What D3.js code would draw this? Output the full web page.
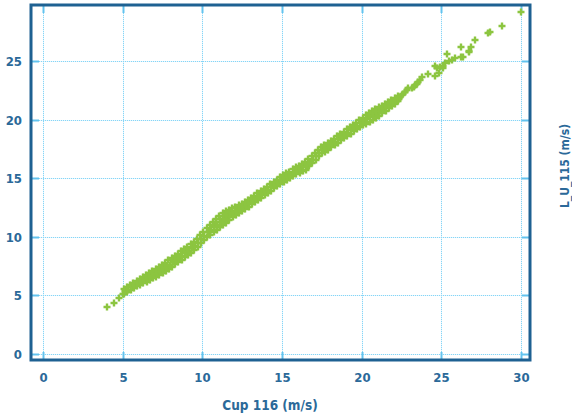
<!DOCTYPE html>
<html>
<head>
<meta charset="utf-8">
<script src="https://cdn.jsdelivr.net/npm/d3@7/dist/d3.min.js"></script>
<style>
  body { margin: 0; background: #fff; }
  svg text { font-family: 'DejaVu Sans Condensed', 'Liberation Sans Narrow', Roboto, sans-serif; font-weight: bold; fill: #2b6999; }
</style>
</head>
<body>
<div id="chart"></div>
<script>
'use strict';

// tick labels and axis titles
var xTicks = [0, 5, 10, 15, 20, 25, 30];
var yTicks = [0, 5, 10, 15, 20, 25];
var xTitle = 'Cup 116 (m/s)';
var yTitle = 'L_U_115 (m/s)';

// [Cup 116, L_U_115] pairs
var lowTail = [[4.00,3.99],[4.46,4.38],[4.77,4.75],[5.02,5.09]];

var band5to8 = [
  [5.10,5.14],[5.16,5.36],[5.08,5.55],[5.30,5.30],[5.34,5.50],[5.27,5.74],
  [5.50,5.47],[5.55,5.72],[5.48,5.93],[5.70,5.62],[5.74,5.88],[5.66,6.10],
  [5.90,5.78],[5.93,6.05],[5.87,6.27],[6.10,5.92],[6.14,6.18],[6.07,6.44],
  [6.30,6.05],[6.33,6.30],[6.27,6.58],[6.50,6.18],[6.54,6.47],[6.48,6.74],
  [6.70,6.30],[6.73,6.62],[6.66,6.92],[6.90,6.46],[6.94,6.79],[6.87,7.08],
  [7.10,6.60],[7.13,6.95],[7.06,7.28],[7.30,6.74],[7.34,7.10],[7.27,7.45],
  [7.50,6.90],[7.53,7.26],[7.46,7.62],[7.70,7.08],[7.73,7.44],[7.67,7.80],
  [7.90,7.27],[7.94,7.62],[7.86,7.99]
];

var band8to11 = [
  [8.10,7.46],[8.13,7.84],[8.07,8.18],[8.30,7.65],[8.34,8.02],[8.26,8.37],
  [8.50,7.84],[8.53,8.21],[8.47,8.56],[8.70,8.03],[8.74,8.40],[8.66,8.77],
  [8.90,8.24],[8.93,8.62],[8.86,8.96],[9.10,8.44],[9.14,8.81],[9.06,9.17],
  [9.30,8.64],[9.33,9.02],[9.27,9.36],[9.50,8.85],[9.54,9.21],[9.46,9.56],
  [9.70,9.12],[9.73,9.48],[9.66,9.83],[9.90,9.45],[9.94,9.80],[9.86,10.12],
  [10.10,9.74],[10.13,10.08],[10.06,10.40],[10.30,9.98],[10.34,10.38],[10.27,10.76],
  [10.50,10.18],[10.54,10.60],[10.47,11.02],[10.70,10.38],[10.74,10.82],[10.68,11.25],[10.72,11.05],
  [10.90,10.58],[10.94,11.05],[10.86,11.52],[10.92,10.82],[10.88,11.30]
];

var band11to14 = [
  [11.10,10.80],[11.14,11.30],[11.06,11.80],[11.12,11.05],[11.08,11.56],
  [11.30,11.02],[11.33,11.52],[11.27,12.06],[11.32,11.28],[11.28,11.80],
  [11.50,11.22],[11.54,11.70],[11.47,12.20],[11.52,11.46],[11.48,11.96],
  [11.70,11.45],[11.73,11.88],[11.66,12.32],[11.72,12.10],
  [11.90,11.68],[11.94,12.06],[11.87,12.44],[12.10,11.88],[12.13,12.22],[12.07,12.56],
  [12.30,12.06],[12.34,12.38],[12.27,12.68],[12.50,12.23],[12.54,12.54],[12.47,12.84],
  [12.70,12.40],[12.73,12.71],[12.66,13.00],[12.90,12.58],[12.94,12.88],[12.86,13.15],
  [13.10,12.78],[13.13,13.06],[13.06,13.32],[13.30,12.98],[13.34,13.26],[13.27,13.52],
  [13.50,13.16],[13.53,13.44],[13.46,13.70],[13.70,13.35],[13.74,13.63],[13.67,13.89],
  [13.90,13.54],[13.93,13.82],[13.86,14.08]
];

var band14to17 = [
  [14.10,13.73],[14.14,14.01],[14.07,14.27],[14.30,13.93],[14.33,14.21],[14.26,14.47],
  [14.50,14.13],[14.54,14.41],[14.47,14.67],[14.70,14.33],[14.73,14.61],[14.66,14.87],
  [14.90,14.53],[14.94,14.81],[14.86,15.07],[15.10,14.71],[15.13,14.99],[15.06,15.25],
  [15.30,14.87],[15.34,15.15],[15.27,15.41],[15.50,15.03],[15.53,15.31],[15.46,15.57],
  [15.70,15.16],[15.74,15.47],[15.67,15.76],[15.90,15.32],[15.93,15.63],[15.86,15.92],
  [16.10,15.46],[16.14,15.78],[16.07,16.08],[16.30,15.60],[16.33,15.92],[16.26,16.22],
  [16.50,15.74],[16.54,16.06],[16.47,16.37],[16.70,16.01],[16.73,16.32],[16.66,16.61],
  [16.90,16.27],[16.94,16.58],[16.86,16.87]
];

var band17to20 = [
  [17.10,16.58],[17.14,16.86],[17.07,17.12],[17.30,16.87],[17.33,17.15],[17.26,17.41],
  [17.50,17.12],[17.54,17.40],[17.46,17.66],[17.70,17.27],[17.73,17.55],[17.66,17.81],
  [17.90,17.44],[17.94,17.72],[17.86,17.98],[18.10,17.63],[18.13,17.91],[18.07,18.17],
  [18.30,17.83],[18.34,18.11],[18.27,18.37],[18.50,18.03],[18.53,18.31],[18.46,18.57],
  [18.70,18.23],[18.74,18.51],[18.66,18.77],[18.90,18.43],[18.93,18.71],[18.86,18.97],
  [19.10,18.62],[19.14,18.90],[19.07,19.16],[19.30,18.81],[19.33,19.09],[19.26,19.35],
  [19.50,19.00],[19.54,19.28],[19.46,19.54],[19.70,19.18],[19.73,19.46],[19.66,19.72],
  [19.90,19.40],[19.94,19.69],[19.86,19.96]
];

var band20to22 = [
  [20.10,19.54],[20.13,19.87],[20.07,20.18],[20.30,19.66],[20.34,20.05],[20.27,20.42],
  [20.50,19.80],[20.53,20.21],[20.46,20.60],[20.70,19.95],[20.74,20.36],[20.66,20.75],[20.72,20.55],
  [20.90,20.12],[20.94,20.53],[20.86,20.92],[20.92,20.72],[21.10,20.34],[21.14,20.70],[21.07,21.04],
  [21.30,20.57],[21.34,20.88],[21.27,21.17],[21.50,20.75],[21.54,21.06],[21.46,21.35],
  [21.70,20.95],[21.73,21.23],[21.66,21.49],[21.90,21.13],[21.94,21.41],[21.86,21.67],
  [22.10,21.37],[22.13,21.60],[22.07,21.81],[22.30,21.55],[22.34,21.78],[22.26,21.99]
];

var highTail = [
  [21.89,21.48],[21.99,21.61],[22.30,21.82],[22.41,21.95],[22.52,22.10],[22.62,22.16],
  [22.72,22.33],[22.83,22.53],[22.93,22.67],[23.15,22.67],[23.25,22.81],[23.35,22.95],
  [23.46,23.01],[23.56,23.18],[23.67,23.38],[23.77,23.66],[24.19,23.90],[24.60,23.72],
  [24.82,23.94],[24.60,24.57],[24.71,24.37],[24.92,24.50],[25.09,24.60],[25.13,24.37],
  [25.24,24.80],[25.34,25.60],[25.50,25.00],[25.65,25.08],[25.86,25.22],[26.24,25.37],
  [26.35,25.37],[26.24,26.17],[26.72,25.74],[26.76,25.85],[26.87,26.22],[27.10,26.80],
  [27.95,27.36],[28.06,27.45],[28.80,28.00],[29.97,29.15]
];

function scatterplot() {

  var scope = this;
  var exports = {};

  // plus marker, 7px across with 2.4px arms
  scope.plus = {
    draw: function(context, size) {
      var r = 3.5, a = 1.2;
      context.moveTo(-r, -a);
      context.lineTo(-a, -a);
      context.lineTo(-a, -r);
      context.lineTo(a, -r);
      context.lineTo(a, -a);
      context.lineTo(r, -a);
      context.lineTo(r, a);
      context.lineTo(a, a);
      context.lineTo(a, r);
      context.lineTo(-a, r);
      context.lineTo(-a, a);
      context.lineTo(-r, a);
      context.closePath();
    }
  };

  scope.appendSvg = function(div) {
    return d3.select(div).append('svg')
      .attr('width', scope.outerWidth)
      .attr('height', scope.outerHeight);
  }

  scope.createScales = function() {
    scope.xScale = d3.scaleLinear().domain([-0.753, 30.56]).range([0, scope.width]).interpolate(d3.interpolateRound);
    scope.yScale = d3.scaleLinear().domain([-0.51, 29.78]).range([scope.height, 0]).interpolate(d3.interpolateRound);
  }

  scope.appendGrid = function(chart) {
    // a pale solid line under a dotted one, like the original
    [['#e4f6fd', null], ['#86d5f7', '1,1']].forEach(function(style) {
      var gx = chart.append('g')
        .attr('class', 'grid')
        .attr('transform', 'translate(0,' + scope.height + ')')
        .call(d3.axisBottom(scope.xScale).tickValues(xTicks).tickSize(-scope.height).tickFormat(''));
      var gy = chart.append('g')
        .attr('class', 'grid')
        .call(d3.axisLeft(scope.yScale).tickValues(yTicks).tickSize(-scope.width).tickFormat(''));
      [gx, gy].forEach(function(g) {
        g.select('.domain').remove();
        g.selectAll('line')
          .attr('stroke', style[0])
          .attr('stroke-dasharray', style[1]);
      });
    });
  }

  scope.appendInnerTicks = function(chart) {
    var tl = 8;
    var sides = [
      [d3.axisBottom(scope.xScale).tickValues(xTicks), 'translate(0,' + scope.height + ')'],
      [d3.axisTop(scope.xScale).tickValues(xTicks), 'translate(0,0)'],
      [d3.axisLeft(scope.yScale).tickValues(yTicks), 'translate(0,0)'],
      [d3.axisRight(scope.yScale).tickValues(yTicks), 'translate(' + scope.width + ',0)']
    ];
    sides.forEach(function(s) {
      var g = chart.append('g')
        .attr('class', 'innerTicks')
        .attr('transform', s[1])
        .call(s[0].tickSize(-tl).tickFormat(''));
      g.select('.domain').remove();
      g.selectAll('line').attr('stroke', '#62c3ee').attr('stroke-width', 2);
    });
  }

  scope.appendLabels = function(chart) {
    chart.append('g')
      .attr('class', 'xAxis')
      .attr('transform', 'translate(0,' + scope.height + ')')
      .call(d3.axisBottom(scope.xScale).tickValues(xTicks).tickSize(0).tickPadding(13));
    chart.append('g')
      .attr('class', 'yAxis')
      .call(d3.axisLeft(scope.yScale).tickValues(yTicks).tickSize(0).tickPadding(9));
    chart.selectAll('.xAxis .domain, .yAxis .domain').remove();
    chart.selectAll('.xAxis text, .yAxis text')
      .attr('fill', null)
      .attr('font-family', null)
      .style('font-size', '13px');

    scope.svg.append('text')
      .attr('x', 270)
      .attr('y', 410)
      .style('text-anchor', 'middle')
      .style('font-size', '13.5px')
      .text(xTitle);

    scope.svg.append('text')
      .attr('transform', 'translate(569,166) rotate(-90)')
      .style('text-anchor', 'middle')
      .style('font-size', '12px')
      .text(yTitle);
  }

  scope.appendPoints = function(chart) {
    var marker = d3.symbol().type(scope.plus).size(40);
    chart.append('g')
      .attr('class', 'points')
      .selectAll('.point')
      .data(scope.data)
      .enter()
      .append('path')
      .attr('class', 'point')
      .attr('d', marker)
      .attr('fill', '#8cc540')
      .attr('transform', function(d) {
        return 'translate(' + scope.xScale(d[0]) + ',' + scope.yScale(d[1]) + ')';
      });
  }

  scope.appendFrame = function(chart) {
    chart.append('rect')
      .attr('class', 'frame')
      .attr('width', scope.width)
      .attr('height', scope.height)
      .attr('fill', 'none')
      .attr('stroke', '#1e6192')
      .attr('stroke-width', 3);
  }

  exports.run = function(div, data, setup) {
    scope.data = data;
    scope.margins = setup.margins;
    scope.outerWidth = setup.width;
    scope.outerHeight = setup.height;
    scope.width = setup.plotWidth;
    scope.height = setup.plotHeight;
    scope.svg = scope.appendSvg(div);
    scope.createScales();
    var chart = scope.svg.append('g')
      .attr('class', 'main_group')
      .attr('transform', 'translate(' + scope.margins.left + ',' + scope.margins.top + ')');
    scope.appendGrid(chart);
    scope.appendInnerTicks(chart);
    scope.appendPoints(chart);
    scope.appendFrame(chart);
    scope.appendLabels(chart);
    return scope.svg;
  }

  return exports;
}

var allPoints = [].concat(lowTail, band5to8, band8to11, band11to14, band14to17, band17to20, band20to22, highTail);

scatterplot.call({}).run('#chart', allPoints, {
  width: 572,
  height: 415,
  plotWidth: 499,
  plotHeight: 355,
  margins: { left: 31, top: 5 }
});
</script>
</body>
</html>
